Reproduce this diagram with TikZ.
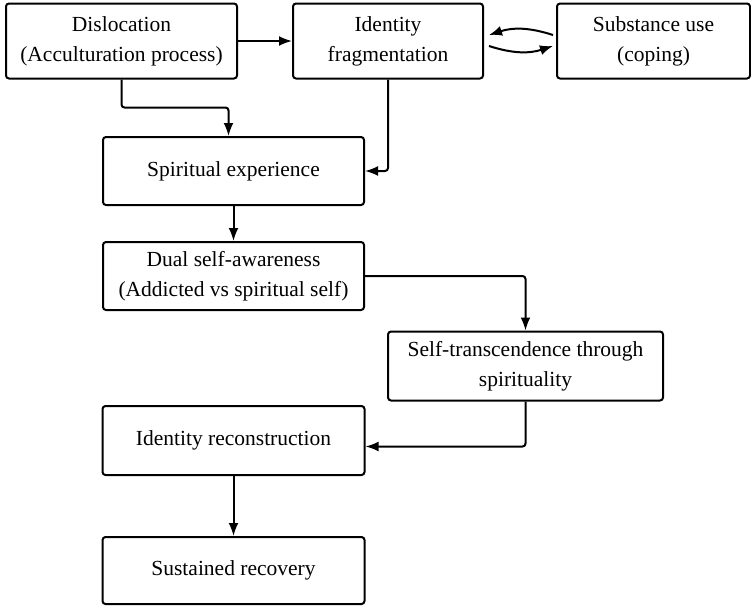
\documentclass[tikz,border=0pt]{standalone}
\usepackage{fontspec}
\setmainfont{Liberation Serif}
\usetikzlibrary{arrows.meta,positioning}

\begin{document}
\begin{tikzpicture}[x=1pt,y=-1pt,
	box/.style={draw, line width=2pt, rounded corners=3pt, align=center, inner sep=2pt, font=\fontsize{21.5}{30}\selectfont},
	flow/.style={line width=2pt, rounded corners=3pt, -{Latex[length=13pt,width=10pt]}}]
	\useasboundingbox (0,0) rectangle (751,605);
	
	% Top row
	\node[box, minimum width=231pt, minimum height=75pt] (disloc) at (121.5,41) {Dislocation\\(Acculturation process)};
	\node[box, minimum width=190pt, minimum height=75pt] (frag) at (388,41) {Identity\\fragmentation};
	\node[box, minimum width=193pt, minimum height=75pt] (subst) at (653.5,41) {Substance use\\(coping)};
	
	% Main column
	\node[box, minimum width=261pt, minimum height=68pt] (spirit) at (233.5,171) {Spiritual experience};
	\node[box, minimum width=261pt, minimum height=68pt] (dual) at (233.5,276) {Dual self-awareness\\(Addicted vs spiritual self)};
	\node[box, minimum width=275pt, minimum height=69pt] (transc) at (525.5,366) {Self-transcendence through\\spirituality};
	\node[box, minimum width=262pt, minimum height=69pt] (recon) at (233.5,440.5) {Identity reconstruction};
	\node[box, minimum width=262pt, minimum height=67pt] (recov) at (233.5,570.5) {Sustained recovery};
	
	% Top row arrows
	\draw[flow] (disloc) -- (frag);
	\draw[flow] ([xshift=-3pt,yshift=6pt]subst.west) to[bend right=18] ([xshift=5pt,yshift=6pt]frag.east);
	\draw[flow] ([xshift=5pt,yshift=-5pt]frag.east) to[bend right=18] ([xshift=-3pt,yshift=-5pt]subst.west);
	
	% Into spiritual experience
	\draw[flow] (disloc.south) -- ++(0,28) -| ([xshift=-5pt]spirit.north);
	\draw[flow] (frag.south) |- (spirit.east);
	
	% Down the path
	\draw[flow] (spirit) -- (dual);
	\draw[flow] (dual.east) -| (transc.north);
	\draw[flow] (transc.south) |- ([yshift=-6pt]recon.east);
	\draw[flow] (recon) -- (recov);
\end{tikzpicture}
\end{document}
